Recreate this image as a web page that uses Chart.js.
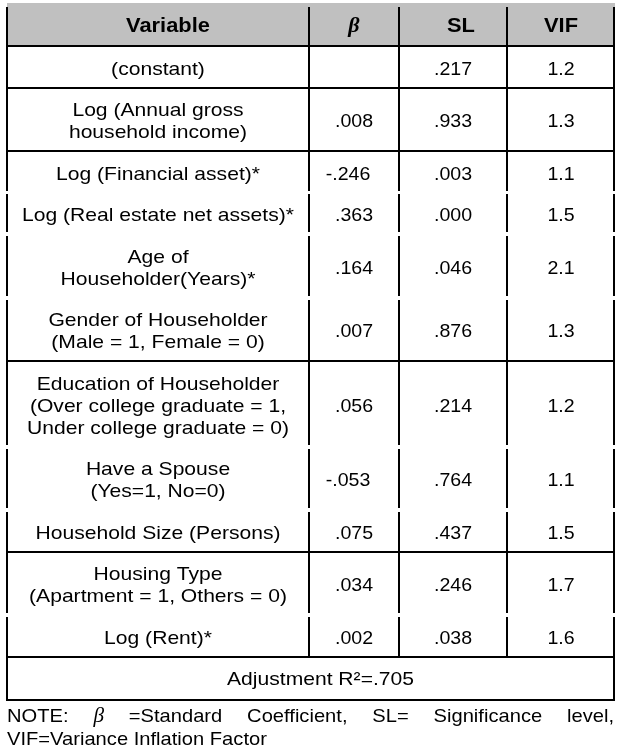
<!DOCTYPE html>
<html>
<head>
<meta charset="utf-8">
<script src="https://cdn.jsdelivr.net/npm/chart.js@4.4.1/dist/chart.umd.min.js"></script>
<style>
  html, body { margin: 0; padding: 0; background: #fff; }
  canvas { display: block; }
</style>
</head>
<body>
<canvas id="chart-table" width="625" height="754"></canvas>
<script>
// --- table content ---
const headers   = ['Variable', 'β', 'SL', 'VIF'];
const variables = [
  ['(constant)'],
  ['Log (Annual gross', 'household income)'],
  ['Log (Financial asset)*'],
  ['Log (Real estate net assets)*'],
  ['Age of', 'Householder(Years)*'],
  ['Gender of Householder', '(Male = 1, Female = 0)'],
  ['Education of Householder', '(Over college graduate = 1,', 'Under college graduate = 0)'],
  ['Have a Spouse', '(Yes=1, No=0)'],
  ['Household Size (Persons)'],
  ['Housing Type', '(Apartment = 1, Others = 0)'],
  ['Log (Rent)*'],
];
const betaValues = [null, 0.008, -0.246, 0.363, 0.164, 0.007, 0.056, -0.053, 0.075, 0.034, 0.002];
const slValues   = [0.217, 0.933, 0.003, 0.000, 0.046, 0.876, 0.214, 0.764, 0.437, 0.246, 0.038];
const vifValues  = [1.2, 1.3, 1.1, 1.5, 2.1, 1.3, 1.2, 1.1, 1.5, 1.7, 1.6];
// rows that open a new ruled block (horizontal line above them)
const groupStart = [true, true, true, false, false, false, true, false, false, true, false];
const adjR2      = 0.705;
const noteWords  = ['NOTE:', 'β', '=Standard', 'Coefficient,', 'SL=', 'Significance', 'level,'];
const noteLine2  = 'VIF=Variance Inflation Factor';

// --- layout ---
const COL_EDGES  = [7, 309, 399, 507, 614];
const HEAD_TOP   = 3;
const HEAD_BOT   = 46;
const ROW_BASE   = 19.5;
const LINE_H     = 22;
const R2_H       = 43;
const GAP        = 2;
const TEXT_DY    = 3;

const SANS   = '"Liberation Sans", Arial, sans-serif';
const SERIF  = '"Liberation Serif", "Times New Roman", serif';

const fmt3 = v => v == null ? '' : (v < 0 ? '-' : '') + Math.abs(v).toFixed(3).replace(/^0/, '');
const fmt1 = v => v.toFixed(1);

// row boundaries in scale units
const rowTops = [];
let acc = HEAD_BOT;
variables.forEach(lines => { rowTops.push(acc); acc += ROW_BASE + LINE_H * lines.length; });
const rowsBottom = acc;

function drawText(ctx, str, x, y, font, sx, align = 'center', baseline = 'middle') {
  ctx.save();
  ctx.font = font;
  ctx.translate(x, y);
  ctx.scale(sx, 1);
  ctx.textAlign = align;
  ctx.textBaseline = baseline;
  ctx.fillText(str, 0, 0);
  ctx.restore();
}

const tablePlugin = {
  id: 'tableCells',
  afterDraw(chart) {
    const { ctx, scales: { x, y } } = chart;
    const px = v => Math.round(x.getPixelForValue(v));
    const py = v => Math.round(y.getPixelForValue(v));
    const left = px(COL_EDGES[0]), right = px(COL_EDGES[4]);

    ctx.save();
    // header band
    ctx.fillStyle = '#c0c0c0';
    ctx.fillRect(left, py(HEAD_TOP), right - left + 1, py(HEAD_BOT) - py(HEAD_TOP));

    ctx.strokeStyle = '#000';
    ctx.lineWidth = 2;
    const hLine = yy => { ctx.beginPath(); ctx.moveTo(left - 1, py(yy)); ctx.lineTo(right + 1, py(yy)); ctx.stroke(); };
    const vLine = (xx, y0, y1) => { ctx.beginPath(); ctx.moveTo(px(xx), py(y0)); ctx.lineTo(px(xx), py(y1)); ctx.stroke(); };

    // header verticals
    COL_EDGES.forEach(e => vLine(e, HEAD_TOP + 4, HEAD_BOT));
    hLine(HEAD_BOT);

    // body rows
    variables.forEach((lines, i) => {
      const top = rowTops[i];
      const bot = i + 1 < variables.length ? rowTops[i + 1] : rowsBottom;
      const nextRuled = i + 1 >= variables.length || groupStart[i + 1];
      if (groupStart[i]) hLine(top);
      const y0 = top + (groupStart[i] ? 0 : GAP);
      const y1 = bot - (nextRuled ? 0 : GAP);
      COL_EDGES.forEach(e => vLine(e, y0, y1));
    });

    // adjusted R² row
    hLine(rowsBottom);
    vLine(COL_EDGES[0], rowsBottom, rowsBottom + R2_H);
    vLine(COL_EDGES[4], rowsBottom, rowsBottom + R2_H);
    hLine(rowsBottom + R2_H);

    // text
    ctx.fillStyle = '#000';
    const colMid = c => px((COL_EDGES[c] + COL_EDGES[c + 1]) / 2);
    const headY = py((HEAD_TOP + HEAD_BOT) / 2) + 1;
    drawText(ctx, headers[0], colMid(0) + 10, headY, `bold 21px ${SANS}`, 1.04);
    drawText(ctx, headers[1], colMid(1), headY, `italic bold 22px ${SERIF}`, 1);
    drawText(ctx, headers[2], colMid(2) + 8, headY, `bold 21px ${SANS}`, 1.04);
    drawText(ctx, headers[3], colMid(3), headY, `bold 21px ${SANS}`, 1.04);

    variables.forEach((lines, i) => {
      const top = rowTops[i];
      const bot = i + 1 < variables.length ? rowTops[i + 1] : rowsBottom;
      const mid = (top + bot) / 2;
      const first = mid - (lines.length - 1) * LINE_H / 2;
      lines.forEach((ln, k) => {
        drawText(ctx, ln, colMid(0), py(first + k * LINE_H) + TEXT_DY, `19px ${SANS}`, 1.11);
      });
      const vy = py(mid) + TEXT_DY;
      const b = fmt3(betaValues[i]);
      drawText(ctx, b, colMid(1) - (b.startsWith('-') ? 6 : 0), vy, `19px ${SANS}`, 1.03);
      drawText(ctx, fmt3(slValues[i]),   colMid(2), vy, `19px ${SANS}`, 1.03);
      drawText(ctx, fmt1(vifValues[i]),  colMid(3), vy, `19px ${SANS}`, 1.03);
    });

    drawText(ctx, 'Adjustment R²=' + fmt3(adjR2), (left + right) / 2 + 10,
             py(rowsBottom + R2_H / 2) + 2, `19px ${SANS}`, 1.11);

    // note, first line justified across the table width
    const noteSx = 1.06;
    const noteY1 = py(rowsBottom + R2_H + 22);
    const noteY2 = noteY1 + 23;
    const fontFor = w => w === 'β' ? `italic 20px ${SERIF}` : `19px ${SANS}`;
    let total = 0;
    const widths = noteWords.map(w => { ctx.font = fontFor(w); const m = ctx.measureText(w).width * noteSx; total += m; return m; });
    const space = (right - left - total) / (noteWords.length - 1);
    let cx = left;
    noteWords.forEach((w, k) => {
      drawText(ctx, w, cx, noteY1, fontFor(w), noteSx, 'left', 'alphabetic');
      cx += widths[k] + space;
    });
    drawText(ctx, noteLine2, left, noteY2, `19px ${SANS}`, noteSx, 'left', 'alphabetic');
    ctx.restore();
  },
};

const ctx = document.getElementById('chart-table').getContext('2d');
const tableChart = new Chart(ctx, {
  type: 'scatter',
  data: { datasets: [] },
  options: {
    responsive: false,
    animation: false,
    layout: { padding: 0 },
    plugins: { legend: { display: false }, tooltip: { enabled: false } },
    scales: {
      x: { type: 'linear', min: 0, max: 625, display: false },
      y: { type: 'linear', min: 0, max: 754, reverse: true, display: false },
    },
  },
  plugins: [tablePlugin],
});
</script>
</body>
</html>
